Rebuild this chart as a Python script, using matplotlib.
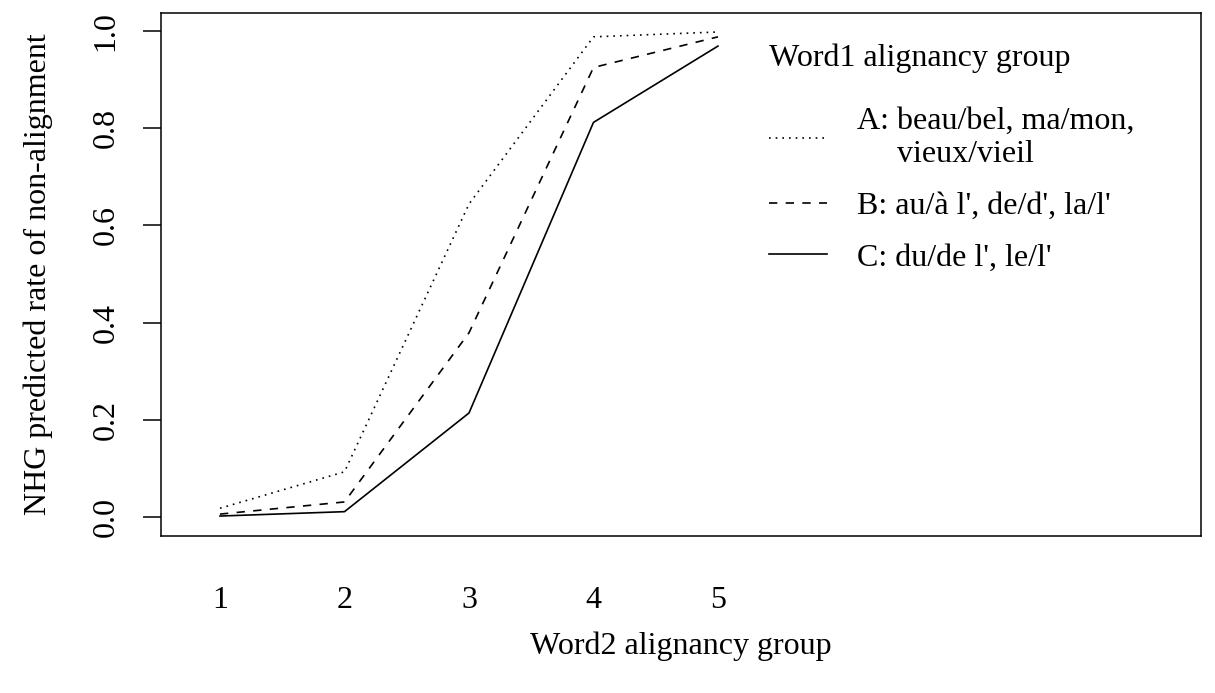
import numpy as np
import matplotlib.pyplot as plt

plt.rcParams['font.family'] = ['Liberation Serif', 'DejaVu Serif']

word2_groups = [1, 2, 3, 4, 5]
rate_a = [0.018, 0.093, 0.644, 0.988, 0.998]
rate_b = [0.006, 0.031, 0.379, 0.925, 0.988]
rate_c = [0.002, 0.011, 0.214, 0.812, 0.969]
labels = ["A: beau/bel, ma/mon,\n     vieux/vieil",
          "B: au/à l', de/d', la/l'",
          "C: du/de l', le/l'"]
styles = [(0, (1, 3)), (0, (5, 5)), '-']

fs = 23
fig = plt.figure(figsize=(12.15, 6.93), dpi=100)
ax = fig.add_axes([0.1325, 0.2266, 0.856, 0.7546])

for vals, lab, ls in zip([rate_a, rate_b, rate_c], labels, styles):
    ax.plot(word2_groups, vals, color='black', lw=1.2, linestyle=ls, label=lab)

ax.set_xlim(0.526, 8.88)
ax.set_ylim(-0.039, 1.037)
ax.set_yticks([0.0, 0.2, 0.4, 0.6, 0.8, 1.0])
ax.set_yticklabels(['0.0', '0.2', '0.4', '0.6', '0.8', '1.0'], rotation=90, va='center')
ax.set_xticks(word2_groups)
ax.tick_params(axis='x', length=0, pad=36, labelsize=fs)
ax.tick_params(axis='y', length=13, width=1.1, pad=16, labelsize=fs)
for s in ax.spines.values():
    s.set_linewidth(1.1)

ax.set_xlabel('Word2 alignancy group', fontsize=fs, labelpad=12)
ax.set_ylabel('NHG predicted rate of non-alignment', fontsize=fs, labelpad=28)

leg = ax.legend(loc='upper left', bbox_to_anchor=(0.557, 0.996), frameon=False,
                fontsize=fs, title='Word1 alignancy group', title_fontsize=fs,
                handlelength=1.8, handletextpad=0.95, labelspacing=0.7,
                alignment='left')
leg._legend_box.sep = 24

fig.savefig('out.png', dpi=100)
